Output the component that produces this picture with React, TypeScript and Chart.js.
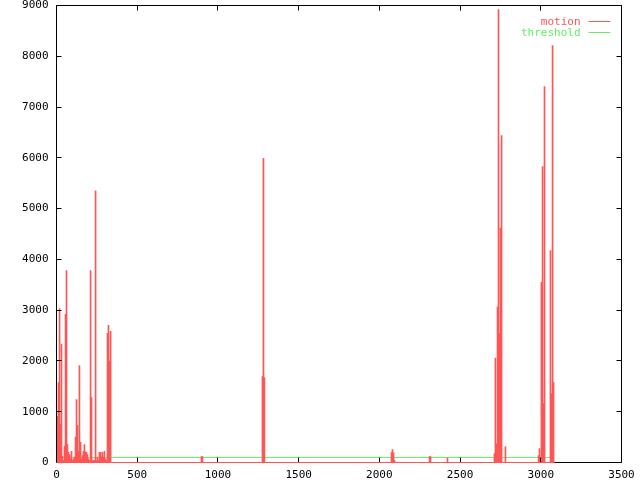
import React, { useEffect, useRef } from "react";
import { Chart, registerables } from "chart.js";

Chart.register(...registerables);

// ---- data ----
const motionFrames: number[] = [
  0, 6, 12, 19, 25, 31, 37, 43, 50, 56, 62, 68, 74, 81, 87, 93, 99, 105, 112, 118,
  124, 130, 136, 142, 149, 155, 161, 167, 173, 180, 186, 192, 198, 204, 211, 217, 223, 229, 235, 242,
  248, 254, 260, 266, 273, 279, 285, 291, 297, 304, 310, 316, 322, 328, 335,
  898, 904,
  1276, 1282, 1288,
  2075, 2081, 2088, 2094,
  2311, 2317,
  2422,
  2713, 2719, 2726, 2732, 2738, 2744, 2750, 2757, 2781,
  2986, 2992, 3004, 3011, 3017, 3023, 3060, 3066, 3073, 3079,
];
const motionValues: number[] = [
  320, 905, 1575, 3030, 750, 2330, 120, 40, 320, 2920, 3780, 355, 200, 155, 72, 220, 40, 72, 105, 500,
  1240, 730, 220, 1910, 395, 72, 138, 220, 355, 210, 200, 158, 72, 40, 3780, 1280, 40, 40, 40, 5350,
  40, 105, 40, 200, 200, 118, 200, 105, 220, 72, 40, 2545, 2700, 1995, 2585,
  115, 115,
  1690, 5990, 1670,
  197, 256, 197, 40,
  118, 118,
  90,
  175, 2055, 370, 3060, 8920, 2545, 4615, 6440, 315,
  138, 275, 3550, 5830, 1160, 7405, 4175, 1355, 8210, 1580,
];
// motion is zero over the whole recorded range
const motionRangeFrames: number[] = [0, 3085];
const motionRangeValues: number[] = [0, 0];
const thresholdFrames: number[] = [0, 3085];
const thresholdValues: number[] = [100, 100];

const xTicks: number[] = [0, 500, 1000, 1500, 2000, 2500, 3000, 3500];
const yTicks: number[] = [0, 1000, 2000, 3000, 4000, 5000, 6000, 7000, 8000, 9000];
const legendLabels: string[] = ["motion", "threshold"];

const RED = "#ff5555";
const GREEN = "#66ee66";
const FONT = "'DejaVu Sans Mono', monospace";

const framePlugin = {
  id: "gnuframe",
  afterDatasetsDraw(chart: any) {
    const { ctx, chartArea, scales } = chart;
    const l = Math.floor(chartArea.left) + 0.5;
    const r = Math.floor(chartArea.right) + 0.5;
    const t = Math.floor(chartArea.top) + 0.5;
    const b = Math.floor(chartArea.bottom) + 0.5;
    ctx.save();
    ctx.strokeStyle = "#000000";
    ctx.lineWidth = 1;
    ctx.beginPath();
    ctx.moveTo(l, t);
    ctx.lineTo(r, t);
    ctx.lineTo(r, b);
    ctx.lineTo(l, b);
    ctx.closePath();
    for (const v of xTicks) {
      const px = Math.floor(scales.x.getPixelForValue(v)) + 0.5;
      ctx.moveTo(px, b);
      ctx.lineTo(px, b - 5);
      ctx.moveTo(px, t);
      ctx.lineTo(px, t + 5);
    }
    for (const v of yTicks) {
      const py = Math.floor(scales.y.getPixelForValue(v)) + 0.5;
      ctx.moveTo(l, py);
      ctx.lineTo(l + 5, py);
      ctx.moveTo(r, py);
      ctx.lineTo(r - 5, py);
    }
    ctx.stroke();
    ctx.restore();
    // motion's zero line lies on the bottom border: draw it over the frame
    const meta = chart.getDatasetMeta(2);
    if (meta && meta.controller) meta.controller.draw();
  },
  afterDraw(chart: any) {
    const { ctx, chartArea } = chart;
    const colors = [RED, GREEN];
    const textRight = chartArea.right - 41;
    const lineX0 = chartArea.right - 33;
    const lineX1 = chartArea.right - 11;
    ctx.save();
    ctx.font = "11px " + FONT;
    ctx.textAlign = "right";
    ctx.textBaseline = "middle";
    legendLabels.forEach((lab, i) => {
      const y = 22 + i * 11;
      ctx.fillStyle = colors[i];
      ctx.fillText(lab, textRight, y);
      ctx.strokeStyle = colors[i];
      ctx.lineWidth = 1;
      ctx.beginPath();
      ctx.moveTo(lineX0, y - 0.5);
      ctx.lineTo(lineX1, y - 0.5);
      ctx.stroke();
    });
    ctx.restore();
  },
};

export default function App() {
  const ref = useRef<HTMLCanvasElement | null>(null);

  useEffect(() => {
    document.body.style.margin = "0";
    const canvas = ref.current;
    if (!canvas) return;
    const chart = new Chart(canvas, {
      type: "bar",
      data: {
        datasets: [
          {
            type: "line",
            label: "threshold",
            data: thresholdFrames.map((x, i) => ({ x, y: thresholdValues[i] })),
            borderColor: GREEN,
            borderWidth: 1,
            pointRadius: 0,
            fill: false,
            order: 2,
          } as any,
          {
            type: "bar",
            label: "motion",
            data: motionFrames.map((x, i) => ({ x, y: motionValues[i] })),
            backgroundColor: RED,
            borderWidth: 0,
            barThickness: 1,
            grouped: false,
            order: 1,
          } as any,
          {
            type: "line",
            label: "motion",
            data: motionRangeFrames.map((x, i) => ({ x, y: motionRangeValues[i] })),
            borderColor: RED,
            borderWidth: 1,
            pointRadius: 0,
            fill: false,
            clip: false,
            order: 0,
          } as any,
        ],
      },
      options: {
        responsive: false,
        animation: false,
        events: [],
        layout: { padding: { left: 0, top: 5.5, right: 18.5, bottom: 0 } },
        plugins: { legend: { display: false }, tooltip: { enabled: false } },
        scales: {
          x: {
            type: "linear",
            min: 0,
            max: 3500,
            offset: false,
            grid: { display: false, drawTicks: false },
            border: { display: false },
            ticks: {
              stepSize: 500,
              autoSkip: false,
              maxRotation: 0,
              padding: 6,
              color: "#000",
              font: { family: FONT, size: 11 },
              callback: (v: any) => String(v),
            },
            afterFit(scale: any) {
              scale.height = 17.5;
              scale.paddingLeft = 0;
              scale.paddingRight = 0;
            },
          },
          y: {
            type: "linear",
            min: 0,
            max: 9000,
            grid: { display: false, drawTicks: false },
            border: { display: false },
            ticks: {
              stepSize: 1000,
              autoSkip: false,
              padding: 8,
              color: "#000",
              font: { family: FONT, size: 11 },
              callback: (v: any) => String(v),
            },
            afterFit(scale: any) {
              scale.width = 56.5;
              scale.paddingTop = 0;
              scale.paddingBottom = 0;
            },
          },
        },
      } as any,
      plugins: [framePlugin],
    });
    return () => chart.destroy();
  }, []);

  return (
    <canvas
      ref={ref}
      width={640}
      height={480}
      style={{ display: "block", width: 640, height: 480 }}
    />
  );
}
